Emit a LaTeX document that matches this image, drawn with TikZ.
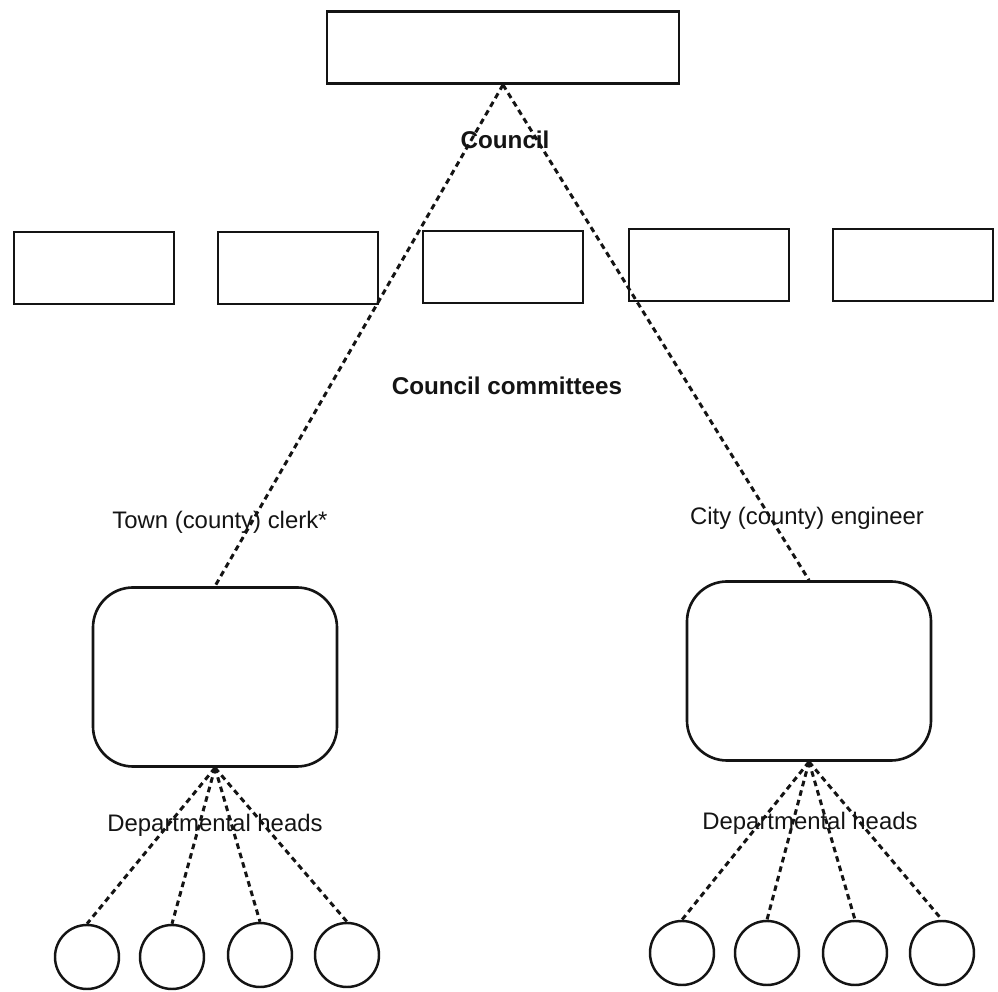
\documentclass[tikz,border=0pt]{standalone}
\usepackage{fontspec}
\setmainfont{Liberation Sans}
\usepackage{tikz}
\usetikzlibrary{positioning}
\definecolor{tinte}{HTML}{141414}
\tikzset{
  kasten/.style={draw=tinte,line width=1.5pt,minimum width=32mm,minimum height=14.4mm,inner sep=0pt},
  rkasten/.style={draw=tinte,line width=1.5pt,rounded corners=8mm,minimum width=48.8mm,minimum height=35.8mm,inner sep=0pt},
  kreis/.style={draw=tinte,circle,line width=1.4pt,minimum size=12.8mm,inner sep=0pt},
  hilf/.style={tinte,line width=1.7pt,dash pattern=on 3.2pt off 2.4pt},
  schrift/.style={font=\fontsize{13.6}{15}\selectfont,text=tinte,inner sep=0pt},
  fett/.style={schrift,font=\fontsize{13.8}{15}\selectfont\bfseries},
}

\begin{document}
\begin{tikzpicture}[x=0.2mm,y=-0.2mm]
  \useasboundingbox (0,0) rectangle (998,992);
  % council and committees
  \node[kasten,minimum width=70.4mm] (council) at (503,47.5) {};
  \node[kasten] (kom1) at (94,268) {};
  \node[kasten] (kom2) at (298,268) {};
  \node[kasten] (kom3) at (503,267) {};
  \node[kasten] (kom4) at (709,265) {};
  \node[kasten] (kom5) at (913,265) {};
  % officers
  \node[rkasten] (clerk) at (215,677) {};
  \node[rkasten] (engineer) at (809,671) {};
  % departmental heads
  \foreach \i/\x/\y in {1/87/957,2/172/957,3/260/955,4/347/955}
    \node[kreis] (dl\i) at (\x,\y) {};
  \foreach \i/\x/\y in {1/682/953,2/767/953,3/855/953,4/942/953}
    \node[kreis] (dr\i) at (\x,\y) {};
  \draw[hilf] (council.south) -- (clerk.north);
  \draw[hilf] (council.south) -- (engineer.north);
  \foreach \i in {1,...,4} {
    \draw[hilf] (clerk.south) -- (dl\i.north);
    \draw[hilf] (engineer.south) -- (dr\i.north);
  }
  \node[fett] (lcouncil) at (505,140) {Council};
  \node[fett] (lkom) at (507,386) {Council committees};
  \node[schrift] (lclerk) at (220,522) {Town (county) clerk*};
  \node[schrift] (lengineer) at (807,518) {City (county) engineer};
  \node[schrift] (lheads1) at (215,825) {Departmental heads};
  \node[schrift] (lheads2) at (810,823) {Departmental heads};
\end{tikzpicture}
\end{document}
